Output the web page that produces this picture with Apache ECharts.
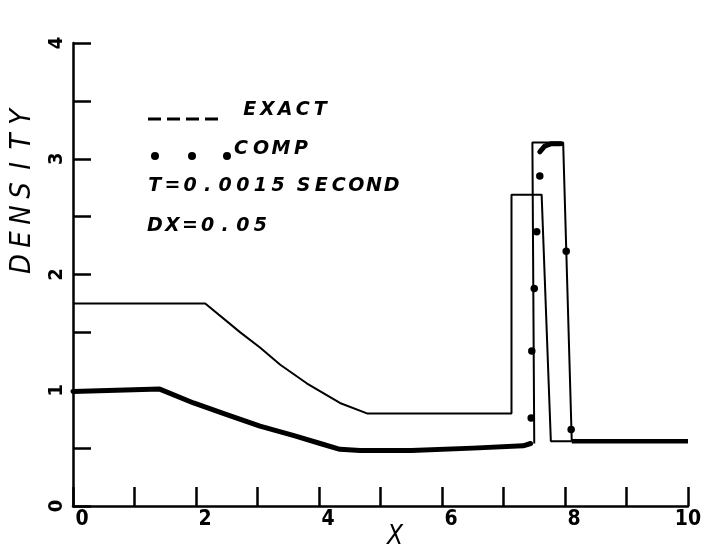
<!DOCTYPE html>
<html>
<head>
<meta charset="utf-8">
<script src="https://cdn.jsdelivr.net/npm/echarts@6/dist/echarts.min.js"></script>
<style>
html,body{margin:0;padding:0;background:#fff;}
#chart{width:707px;height:551px;}
</style>
</head>
<body>
<div id="chart"></div>
<script>
// ---- data ----
const xTickLabels = ['0', '2', '4', '6', '8', '10'];
const yTickLabels = ['0', '1', '2', '3', '4'];

// thin profile (plateau 1.75 -> rarefaction -> 0.80 -> step 2.69)
const exactX = [0, 2.15, 2.72, 3.04, 3.37, 3.80, 4.34, 4.78, 7.13, 7.13, 7.62, 7.77, 8.11];
const exactY = [1.75, 1.75, 1.50, 1.37, 1.22, 1.06, 0.89, 0.80, 0.80, 2.69, 2.69, 0.56, 0.56];

// thin tall step (3.14)
const stepX = [7.50, 7.47, 7.97, 8.11];
const stepY = [0.54, 3.14, 3.14, 0.56];

// computed, thick (merged dots) left part
const compX = [0, 1.41, 1.96, 2.50, 3.04, 3.58, 4.02, 4.34, 4.67, 5.50, 6.50, 7.32, 7.44];
const compY = [0.99, 1.01, 0.89, 0.79, 0.69, 0.61, 0.54, 0.49, 0.48, 0.48, 0.50, 0.52, 0.54];
// computed, thick top part
const compTopX = [7.59, 7.67, 7.78, 7.93];
const compTopY = [3.06, 3.11, 3.13, 3.13];
// computed, thick right part
const compRightX = [8.11, 10];
const compRightY = [0.56, 0.56];
// computed, separate dots
const dotX = [7.45, 7.46, 7.50, 7.54, 7.59, 8.02, 8.10];
const dotY = [0.76, 1.34, 1.88, 2.37, 2.85, 2.20, 0.66];

const legendExact = 'EXACT';
const legendComp = 'COMP';
const noteTime = 'T=0.0015 SECOND';
const noteDx = 'DX=0.05';
const yName = 'DENSITY';
const xName = 'X';

// ---- helpers ----
const pairs = (xs, ys) => xs.map((x, i) => [x, ys[i]]);
const spaced = (s, key) => s.split('').map(ch => ch === ' ' ? '{s| }' : '{' + key + '|' + ch + '}').join('');

const FONT = "'DejaVu Sans Condensed', 'Liberation Sans Narrow', 'DejaVu Sans', sans-serif";
const LFONT = "'DejaVu Sans', sans-serif";
const chart = echarts.init(document.getElementById('chart'), null, {renderer: 'canvas'});

function legendText(str, x, y, cell) {
  const st = {fontSize: 19, fontStyle: 'italic', fontWeight: 'bold', fontFamily: LFONT, fill: '#000'};
  return {
    type: 'text', x: x, y: y,
    style: {
      text: spaced(str, 'c'),
      verticalAlign: 'middle', align: 'left',
      rich: {
        c: Object.assign({width: cell, align: 'center'}, st),
        s: Object.assign({width: 8, align: 'center'}, st)
      }
    }
  };
}

const option = {
  animation: false,
  backgroundColor: '#ffffff',
  grid: {left: 73, right: 19, top: 43, bottom: 45, containLabel: false, outerBoundsMode: 'none'},
  xAxis: {
    type: 'value', min: 0, max: 10, interval: 1,
    axisLine: {lineStyle: {color: '#000', width: 2.5}},
    axisTick: {inside: true, length: 19, lineStyle: {color: '#000', width: 2.5}},
    splitLine: {show: false},
    axisLabel: {
      margin: 3, color: '#000',
      formatter: function (v) {
        const s = String(Math.round(v));
        if (xTickLabels.indexOf(s) < 0) return '';
        return s.length > 1 ? '{b|' + s + '}' : '{a|' + s + '}';
      },
      rich: {
        a: {fontSize: 21, fontWeight: 'bold', fontFamily: FONT, color: '#000', padding: [0, 0, 0, 18]},
        b: {fontSize: 21, fontWeight: 'bold', fontFamily: FONT, color: '#000'}
      }
    },
    name: xName, nameLocation: 'middle', nameGap: 18, nameMoveOverlap: false,
    nameTextStyle: {fontSize: 26, fontStyle: 'italic', fontFamily: FONT, color: '#000', padding: [0, 0, 0, 29]}
  },
  yAxis: {
    type: 'value', min: 0, max: 4, interval: 0.5,
    axisLine: {lineStyle: {color: '#000', width: 2.5}},
    axisTick: {inside: true, length: 18, lineStyle: {color: '#000', width: 2.5}},
    splitLine: {show: false},
    axisLabel: {
      rotate: 90, margin: 6, color: '#000', fontSize: 20, fontWeight: 'bold', fontFamily: FONT,
      formatter: function (v) {
        const s = String(v);
        return yTickLabels.indexOf(s) >= 0 ? s : '';
      }
    },
    name: spaced(yName, 'c'), nameLocation: 'middle', nameRotate: 90, nameGap: 36, nameMoveOverlap: false,
    nameTextStyle: {
      padding: [0, 0, 0, 168],
      rich: {c: {width: 24.5, align: 'center', fontSize: 29, fontStyle: 'italic', fontFamily: FONT, color: '#000'}}
    }
  },
  series: [
    {type: 'line', name: 'EXACT', data: pairs(exactX, exactY), showSymbol: false, lineStyle: {color: '#000', width: 2}, z: 3},
    {type: 'line', name: 'EXACT', data: pairs(stepX, stepY), showSymbol: false, lineStyle: {color: '#000', width: 2}, z: 3},
    {type: 'line', name: 'COMP', data: pairs(compX, compY), showSymbol: false, lineStyle: {color: '#000', width: 5, cap: 'round', join: 'round'}, z: 4},
    {type: 'line', name: 'COMP', data: pairs(compTopX, compTopY), showSymbol: false, lineStyle: {color: '#000', width: 5, cap: 'round', join: 'round'}, z: 4},
    {type: 'line', name: 'COMP', data: pairs(compRightX, compRightY), showSymbol: false, lineStyle: {color: '#000', width: 4.5}, z: 4},
    {type: 'scatter', name: 'COMP', data: pairs(dotX, dotY), symbol: 'circle', symbolSize: 7.5, itemStyle: {color: '#000', opacity: 1}, z: 5}
  ],
  graphic: [
    {type: 'line', shape: {x1: 148, y1: 119, x2: 218, y2: 119}, style: {stroke: '#000', lineWidth: 3, lineDash: [13, 6]}},
    legendText(legendExact, 241, 110, 17.6),
    {type: 'circle', shape: {cx: 155, cy: 156, r: 4}, style: {fill: '#000'}},
    {type: 'circle', shape: {cx: 192, cy: 156, r: 4}, style: {fill: '#000'}},
    {type: 'circle', shape: {cx: 227, cy: 156, r: 4}, style: {fill: '#000'}},
    legendText(legendComp, 231, 149, 20),
    legendText(noteTime, 146, 186, 17.6),
    legendText(noteDx, 146, 226, 17.6)
  ]
};
chart.setOption(option);
</script>
</body>
</html>
